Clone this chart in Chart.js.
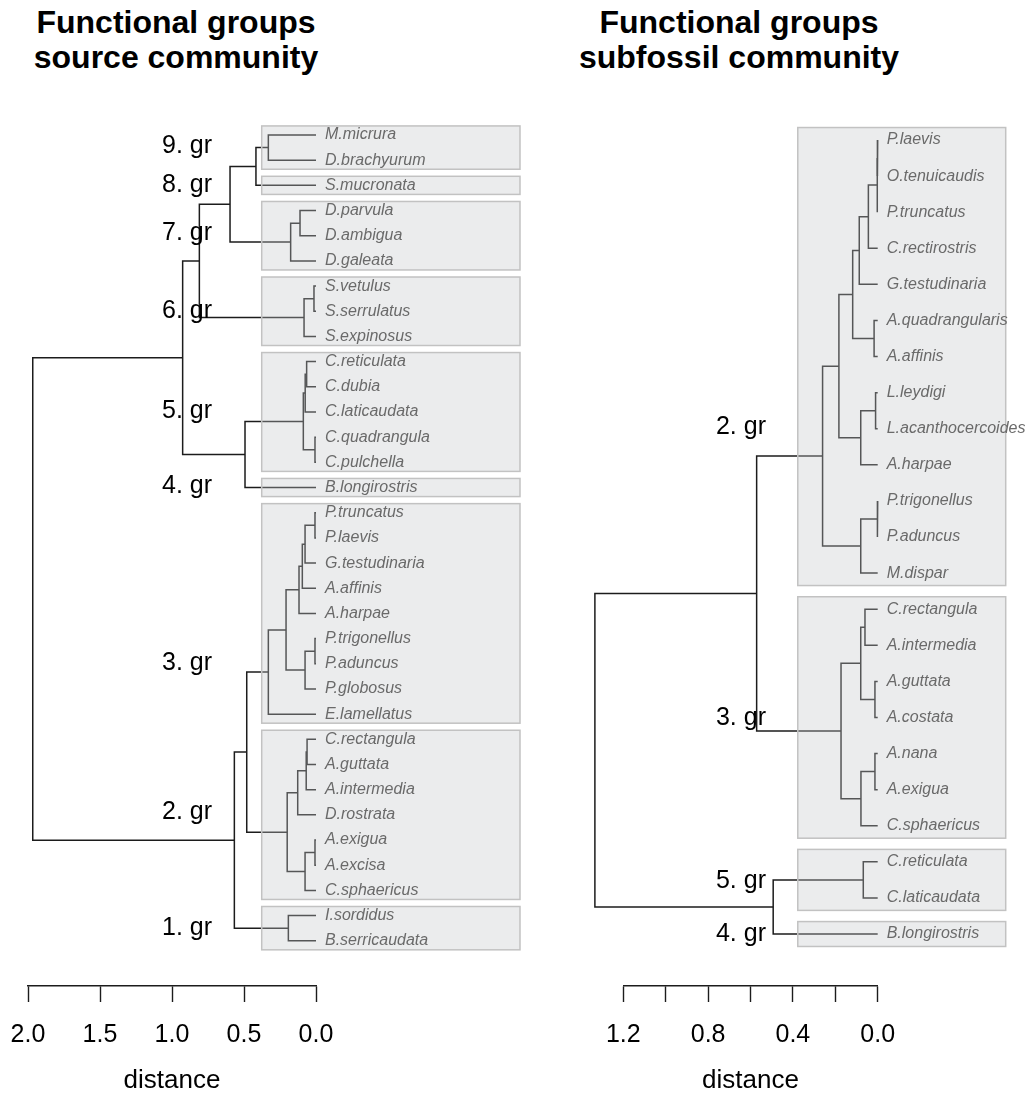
<!DOCTYPE html>
<html>
<head>
<meta charset="utf-8">
<script src="https://cdn.jsdelivr.net/npm/chart.js@4.4.0/dist/chart.umd.min.js"></script>
<style>
  html, body { margin: 0; padding: 0; background: #fff; }
  #wrap { position: relative; width: 1028px; height: 1095px; overflow: hidden; }
  canvas { position: absolute; top: 0; }
  .title {
    position: absolute; top: 5px; width: 400px; text-align: center;
    font: bold 32px "Liberation Sans", Arial, sans-serif; line-height: 35px;
    color: #000; white-space: nowrap;
  }
</style>
</head>
<body>
<div id="wrap">
  <div class="title" style="left:-24px">Functional groups<br>source community</div>
  <div class="title" style="left:539px">Functional groups<br>subfossil community</div>
  <canvas id="source" width="540" height="1095" style="left:0"></canvas>
  <canvas id="subfossil" width="488" height="1095" style="left:540px"></canvas>
</div>
<script>
// ---- Source community (leaves listed top to bottom) ----
const sourceLeaves = [
  'M.micrura', 'D.brachyurum', 'S.mucronata', 'D.parvula', 'D.ambigua', 'D.galeata',
  'S.vetulus', 'S.serrulatus', 'S.expinosus', 'C.reticulata', 'C.dubia', 'C.laticaudata',
  'C.quadrangula', 'C.pulchella', 'B.longirostris', 'P.truncatus', 'P.laevis',
  'G.testudinaria', 'A.affinis', 'A.harpae', 'P.trigonellus', 'P.aduncus', 'P.globosus',
  'E.lamellatus', 'C.rectangula', 'A.guttata', 'A.intermedia', 'D.rostrata', 'A.exigua',
  'A.excisa', 'C.sphaericus', 'I.sordidus', 'B.serricaudata'
];
// merge steps: negative = leaf number (1-based), positive = earlier merge step (1-based)
const sourceMerges = [
  [-1, -2], [1, -3], [-4, -5], [3, -6], [2, 4], [-7, -8], [6, -9], [5, 7],
  [-10, -11], [9, -12], [-13, -14], [10, 11], [12, -15], [8, 13],
  [-16, -17], [15, -18], [16, -19], [17, -20], [-21, -22], [19, -23], [18, 20], [21, -24],
  [-25, -26], [23, -27], [24, -28], [-29, -30], [26, -31], [25, 27], [22, 28],
  [-32, -33], [29, 30], [14, 31]
];
const sourceHeights = [
  0.331, 0.417, 0.111, 0.176, 0.597, 0.014, 0.083, 0.810,
  0.065, 0.075, 0.007, 0.088, 0.493, 0.926,
  0.007, 0.076, 0.095, 0.118, 0.007, 0.076, 0.208, 0.331,
  0.062, 0.068, 0.127, 0.007, 0.076, 0.200, 0.481,
  0.192, 0.567, 1.967
];
const sourceGroupNames = ['9. gr', '8. gr', '7. gr', '6. gr', '5. gr', '4. gr', '3. gr', '2. gr', '1. gr'];
const sourceGroupFirst = [0, 2, 3, 6, 9, 14, 15, 24, 31];
const sourceGroupLast  = [1, 2, 5, 8, 13, 14, 23, 30, 32];
const sourceGroupLabelRow = [0.40, 1.95, 3.84, 6.95, 10.92, 13.90, 20.92, 26.85, 31.44];
const sourceTicks = [0, 0.5, 1.0, 1.5, 2.0];
const sourceTickLabels = ['0.0', '0.5', '1.0', '1.5', '2.0'];

// ---- Subfossil community ----
const subfossilLeaves = [
  'P.laevis', 'O.tenuicaudis', 'P.truncatus', 'C.rectirostris', 'G.testudinaria',
  'A.quadrangularis', 'A.affinis', 'L.leydigi', 'L.acanthocercoides', 'A.harpae',
  'P.trigonellus', 'P.aduncus', 'M.dispar', 'C.rectangula', 'A.intermedia', 'A.guttata',
  'A.costata', 'A.nana', 'A.exigua', 'C.sphaericus', 'C.reticulata', 'C.laticaudata',
  'B.longirostris'
];
const subfossilMerges = [
  [-1, -2], [1, -3], [2, -4], [3, -5], [-6, -7], [4, 5], [-8, -9], [7, -10], [6, 8],
  [-11, -12], [10, -13], [9, 11],
  [-14, -15], [-16, -17], [13, 14], [-18, -19], [16, -20], [15, 17], [12, 18],
  [-21, -22], [20, -23], [19, 21]
];
const subfossilHeights = [
  0.002, 0.003, 0.044, 0.087, 0.017, 0.118, 0.010, 0.080, 0.183,
  0.002, 0.080, 0.260,
  0.060, 0.013, 0.080, 0.013, 0.079, 0.173, 0.571,
  0.068, 0.493, 1.334
];
const subfossilGroupNames = ['2. gr', '3. gr', '5. gr', '4. gr'];
const subfossilGroupFirst = [0, 13, 20, 22];
const subfossilGroupLast  = [12, 19, 21, 22];
const subfossilGroupLabelRow = [7.94, 15.98, 20.50, 21.98];
const subfossilTicks = [0, 0.2, 0.4, 0.6, 0.8, 1.0, 1.2];
const subfossilTickLabels = ['0.0', '', '0.4', '', '0.8', '', '1.2'];

const FONT = '"Liberation Sans", Arial, Helvetica, sans-serif';

// Turn merge steps into one bracket-shaped polyline per merge
function dendrogramDatasets(merges, heights) {
  const nodeRow = [], nodeHeight = [];
  const member = m => (m < 0 ? { row: -m - 1, h: 0 } : { row: nodeRow[m - 1], h: nodeHeight[m - 1] });
  return merges.map(([a, b], i) => {
    const A = member(a), B = member(b), h = heights[i];
    nodeRow[i] = (A.row + B.row) / 2;
    nodeHeight[i] = h;
    return {
      data: [{ x: A.h, y: A.row }, { x: h, y: A.row }, { x: h, y: B.row }, { x: B.h, y: B.row }],
      showLine: true,
      borderColor: '#1c1c1c',
      borderWidth: 1.5,
      pointRadius: 0,
      pointHoverRadius: 0,
      tension: 0,
      fill: false,
      clip: false
    };
  });
}

// Shaded group boxes, leaf names and group names
function groupAnnotations(cfg) {
  return {
    id: 'groupAnnotations',
    afterDatasetsDraw(chart) {
      const { ctx, chartArea, scales: { x, y } } = chart;
      ctx.save();
      const left = x.getPixelForValue(cfg.boxFrom);
      const right = chartArea.right + cfg.boxReach;
      cfg.first.forEach((f, i) => {
        const top = y.getPixelForValue(f - cfg.boxPad);
        const bottom = y.getPixelForValue(cfg.last[i] + cfg.boxPad);
        ctx.fillStyle = 'rgba(196,199,203,0.34)';
        ctx.fillRect(left, top, right - left, bottom - top);
        ctx.strokeStyle = '#c2c2c2';
        ctx.lineWidth = 1.5;
        ctx.strokeRect(left, top, right - left, bottom - top);
      });
      ctx.font = 'italic 16px ' + FONT;
      ctx.fillStyle = '#6a6a6a';
      ctx.textBaseline = 'middle';
      ctx.textAlign = 'left';
      const x0 = x.getPixelForValue(0);
      cfg.leaves.forEach((name, i) => ctx.fillText(name, x0 + 9, y.getPixelForValue(i)));
      ctx.font = '25px ' + FONT;
      ctx.fillStyle = '#000';
      ctx.textAlign = 'right';
      cfg.names.forEach((n, i) => ctx.fillText(n, x.getPixelForValue(cfg.labelAt), y.getPixelForValue(cfg.rows[i]) + 1));
      ctx.restore();
    }
  };
}

function makeChart(id, opts) {
  return new Chart(document.getElementById(id), {
    type: 'scatter',
    data: { datasets: dendrogramDatasets(opts.merges, opts.heights) },
    options: {
      responsive: false,
      animation: false,
      events: [],
      layout: { padding: opts.padding },
      plugins: { legend: { display: false }, tooltip: { enabled: false }, title: { display: false } },
      scales: {
        x: {
          type: 'linear',
          position: 'bottom',
          reverse: true,
          min: 0,
          max: opts.xMax,
          afterBuildTicks: s => { s.ticks = opts.ticks.map(v => ({ value: v })); },
          afterFit: s => { s.height = 109; },
          ticks: {
            autoSkip: false,
            maxRotation: 0,
            padding: 18,
            color: '#000',
            font: { size: 25, family: FONT },
            callback: (v, i) => opts.tickLabels[i]
          },
          grid: {
            display: true,
            drawOnChartArea: false,
            drawTicks: true,
            tickLength: 16,
            tickWidth: 1.4,
            tickColor: '#1c1c1c',
            color: '#1c1c1c'
          },
          border: { display: true, color: '#1c1c1c', width: 1.4 },
          title: {
            display: true,
            text: 'distance',
            color: '#000',
            font: { size: 26, family: FONT, lineHeight: 1.1 },
            padding: { top: 0, bottom: 0 }
          }
        },
        y: { type: 'linear', reverse: true, min: opts.yMin, max: opts.yMax, display: false }
      }
    },
    plugins: [groupAnnotations(opts.annot)]
  });
}

makeChart('source', {
  merges: sourceMerges, heights: sourceHeights,
  xMax: 2, ticks: sourceTicks, tickLabels: sourceTickLabels,
  padding: { left: 28, right: 224, top: 100, bottom: 0 },
  yMin: -1.39, yMax: 33.797,
  annot: {
    leaves: sourceLeaves, names: sourceGroupNames, first: sourceGroupFirst,
    last: sourceGroupLast, rows: sourceGroupLabelRow,
    boxFrom: 0.377, boxReach: 204, boxPad: 0.36, labelAt: 0.722
  }
});

makeChart('subfossil', {
  merges: subfossilMerges, heights: subfossilHeights,
  xMax: 1.2, ticks: subfossilTicks, tickLabels: subfossilTickLabels,
  padding: { left: 83.3, right: 150.3, top: 100, bottom: 0 },
  yMin: -1.108, yMax: 23.44,
  annot: {
    leaves: subfossilLeaves, names: subfossilGroupNames, first: subfossilGroupFirst,
    last: subfossilGroupLast, rows: subfossilGroupLabelRow,
    boxFrom: 0.377, boxReach: 128, boxPad: 0.345, labelAt: 0.527
  }
});
</script>
</body>
</html>
